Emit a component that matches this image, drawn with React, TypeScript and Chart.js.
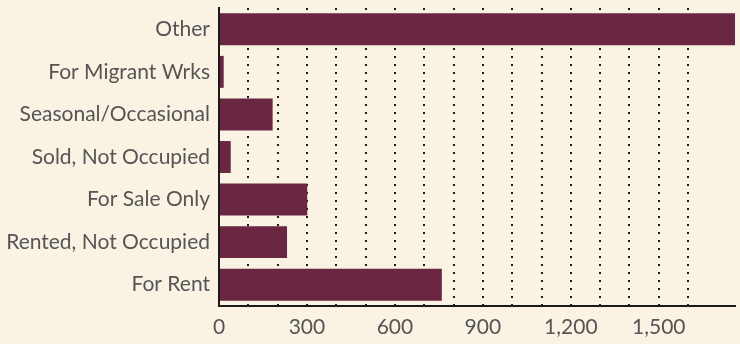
import React, { useEffect, useRef } from "react";
import { Chart, registerables } from "chart.js";

Chart.register(...registerables);

const categories = [
  "Other",
  "For Migrant Wrks",
  "Seasonal/Occasional",
  "Sold, Not Occupied",
  "For Sale Only",
  "Rented, Not Occupied",
  "For Rent",
];
const values = [1760, 16, 183, 40, 301, 232, 760];
const xMax = 1760;
const gridStep = 100;
const labelStep = 300;

const BG = "#FAF3E4";
const BAR = "#6B2642";
const TEXT = "#555555";
const FONT = "Lato";
const FSIZE = 21;

export default function App() {
  const ref = useRef<HTMLCanvasElement | null>(null);

  useEffect(() => {
    document.body.style.margin = "0";
    document.body.style.background = BG;
    const canvas = ref.current;
    if (!canvas) return;
    const bgPlugin = {
      id: "bg",
      beforeDraw(chart: any) {
        const c = chart.ctx;
        c.save();
        c.fillStyle = BG;
        c.fillRect(0, 0, chart.width, chart.height);
        c.restore();
      },
    };
    const chart = new Chart(canvas, {
      type: "bar",
      data: {
        labels: categories,
        datasets: [
          {
            data: values,
            backgroundColor: BAR,
            borderWidth: 0,
            barPercentage: 1,
            categoryPercentage: 0.75,
          },
        ],
      },
      options: {
        indexAxis: "y",
        animation: false,
        responsive: false,
        maintainAspectRatio: false,
        layout: { padding: { top: 8, right: 5, left: 0, bottom: 5 } },
        plugins: { legend: { display: false }, tooltip: { enabled: false } },
        scales: {
          x: {
            min: 0,
            max: xMax,
            afterFit: (s: any) => {
              s.paddingRight = 0;
              s.height = 33;
            },
            border: { display: true, color: "#1a1a1a", width: 2, dash: [2, 6] },
            grid: {
              drawTicks: false,
              lineWidth: 2,
              color: (ctx: any) => {
                const v = ctx.tick ? ctx.tick.value : 0;
                if (v === 0 || v % gridStep !== 0) return "rgba(0,0,0,0)";
                return "#1a1a1a";
              },
            },
            ticks: {
              stepSize: gridStep,
              autoSkip: false,
              maxRotation: 0,
              color: TEXT,
              padding: 9,
              font: { family: FONT, size: FSIZE, lineHeight: 1.15 },
              callback: (v: any) => {
                const n = Number(v);
                if (n % labelStep !== 0) return "";
                return n.toLocaleString("en-US");
              },
            },
          },
          y: {
            afterFit: (s: any) => {
              s.paddingTop = 0;
              s.paddingBottom = 0;
              s.width = 219;
            },
            border: { display: true, color: "#1a1a1a", width: 2 },
            grid: { display: false, drawTicks: false },
            ticks: {
              color: TEXT,
              padding: 9,
              font: { family: FONT, size: FSIZE },
            },
          },
        },
      },
      plugins: [bgPlugin],
    } as any);
    return () => chart.destroy();
  }, []);

  return <canvas ref={ref} width={740} height={344} style={{ display: "block" }} />;
}
